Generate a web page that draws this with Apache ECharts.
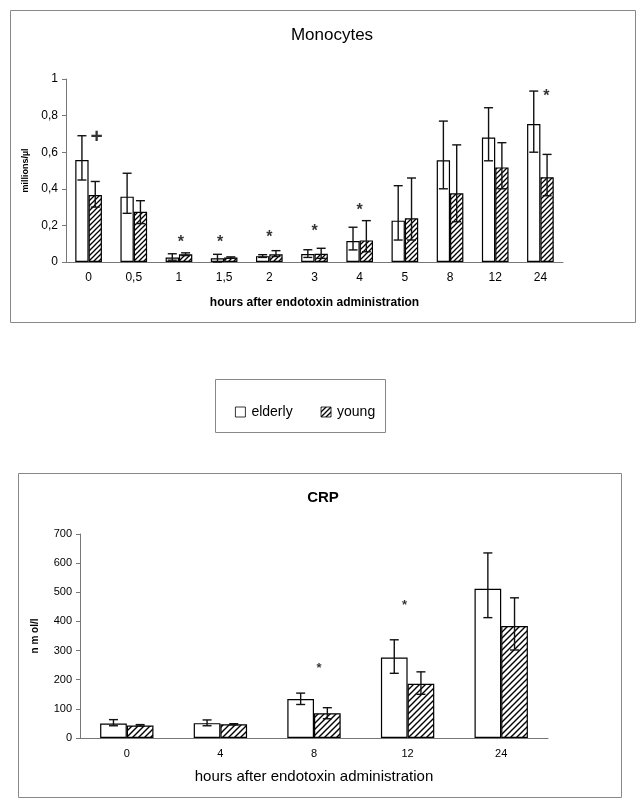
<!DOCTYPE html>
<html><head><meta charset="utf-8">
<script src="https://cdn.jsdelivr.net/npm/echarts@6/dist/echarts.min.js"></script>
<style>html,body{margin:0;padding:0;background:#fff}#c{width:643px;height:808px}</style>
</head><body><div id="c"></div>
<script>
// ---------- data ----------
const monoCategories = ['0','0,5','1','1,5','2','3','4','5','8','12','24'];
const monoElderly     = [0.557,0.357,0.025,0.020,0.032,0.044,0.115,0.226,0.556,0.680,0.754];
const monoElderlyLow  = [0.448,0.266,0.010,0.000,0.025,0.025,0.066,0.120,0.400,0.553,0.600];
const monoElderlyHigh = [0.690,0.485,0.045,0.042,0.040,0.067,0.190,0.417,0.770,0.843,0.934];
const monoYoung       = [0.366,0.275,0.042,0.025,0.042,0.045,0.118,0.239,0.375,0.517,0.463];
const monoYoungLow    = [0.300,0.210,0.035,0.020,0.030,0.020,0.056,0.120,0.220,0.400,0.362];
const monoYoungHigh   = [0.440,0.335,0.050,0.028,0.062,0.075,0.226,0.459,0.640,0.652,0.588];
const monoMarkCats    = [0,2,3,4,5,6,10];
const monoMarkValues  = [0.68,0.12,0.12,0.15,0.18,0.30,0.92];
const monoMarkSymbols = ['+','*','*','*','*','*','*'];
const monoYTicks = {0:'0',0.2:'0,2',0.4:'0,4',0.6:'0,6',0.8:'0,8',1:'1'};

const crpCategories   = ['0','4','8','12','24'];
const crpElderly      = [50,51,134,276,512];
const crpElderlyLow   = [42,42,115,222,413];
const crpElderlyHigh  = [63,62,154,337,635];
const crpYoung        = [43,47,85,186,384];
const crpYoungLow     = [41,45,66,150,302];
const crpYoungHigh    = [46,49,104,227,481];
const crpMarkCats     = [2,3];
const crpMarkValues   = [245,463];
const crpMarkSymbols  = ['*','*'];

const seriesNames = ['elderly','young'];

// ---------- styling ----------
const FONT = '"Liberation Sans", Arial, sans-serif';
const monoMarkOffsets = [[8,0],[2,3],[-4,3],[0,3],[0,3],[0,3],[6,3]];
const crpMarkOffsets = [[5,2],[-3,2]];

function hatch(size, lw){
  const c = document.createElement('canvas');
  c.width = size; c.height = size;
  const g = c.getContext('2d');
  g.fillStyle = '#fff'; g.fillRect(0,0,size,size);
  g.strokeStyle = '#000'; g.lineWidth = lw;
  g.beginPath();
  g.moveTo(0,size); g.lineTo(size,0);
  g.moveTo(-size/2,size/2); g.lineTo(size/2,-size/2);
  g.moveTo(size/2,size*1.5); g.lineTo(size*1.5,size/2);
  g.stroke();
  return c;
}
const hatchMono = {image: hatch(5,1.3), repeat:'repeat'};
const hatchCrp = {image: hatch(6,1.4), repeat:'repeat'};

function errSeries(name, xi, yi, lows, highs, side, barFrac){
  return {
    type:'custom', name: name+'_err', xAxisIndex:xi, yAxisIndex:yi, z:5,
    silent:true,
    data: lows.map((l,i)=>[i,l,highs[i]]),
    renderItem: function(params, api){
      const i = api.value(0);
      const lo = api.coord([i, api.value(1)]);
      const hi = api.coord([i, api.value(2)]);
      const cw = api.size([1,0])[0];
      const bw = cw*barFrac;
      const x = lo[0] + side*bw/2;
      const cap = 4.5;
      const st = {stroke:'#111', lineWidth:1.4};
      return {type:'group', children:[
        {type:'line', shape:{x1:x,y1:lo[1],x2:x,y2:hi[1]}, style:st},
        {type:'line', shape:{x1:x-cap,y1:hi[1],x2:x+cap,y2:hi[1]}, style:st},
        {type:'line', shape:{x1:x-cap,y1:lo[1],x2:x+cap,y2:lo[1]}, style:st}
      ]};
    }
  };
}

function markSeries(xi, yi, cats, vals, syms, offs, fs){
  return {
    type:'scatter', xAxisIndex:xi, yAxisIndex:yi, symbolSize:0, silent:true, z:6,
    data: cats.map((c,i)=>({value:[c, vals[i]], label:{formatter:syms[i], offset:offs[i],
      fontSize: syms[i]==='+' ? fs+5 : fs, fontWeight: 'bold'}})),
    label:{show:true, position:'inside', color:'#000', fontFamily:FONT}
  };
}

const axisGray = '#777';

const option = {
  animation:false,
  backgroundColor:'#fff',
  textStyle:{fontFamily:FONT},
  title:[
    {text:'Monocytes', left:327, top:22, textAlign:'center',
      textStyle:{fontSize:17, fontWeight:'normal', color:'#000', fontFamily:FONT}},
    {text:'CRP', left:318, top:485, textAlign:'center',
      textStyle:{fontSize:15, fontWeight:'bold', color:'#000', fontFamily:FONT}}
  ],
  legend:{
    data: seriesNames, left:230, top:400, itemWidth:10, itemHeight:10, itemGap:28,
    icon:'rect',
    itemStyle:{borderWidth:0.8},
    textStyle:{fontSize:14, color:'#000', fontFamily:FONT, padding:[0,0,0,1]}
  },
  graphic:[
    {type:'rect', shape:{x:10.5,y:10.5,width:625,height:312}, style:{fill:'none', stroke:'#888', lineWidth:1}, silent:true},
    {type:'rect', shape:{x:215.5,y:379.5,width:170,height:53}, style:{fill:'none', stroke:'#888', lineWidth:1}, silent:true},
    {type:'rect', shape:{x:18.5,y:473.5,width:603,height:324}, style:{fill:'none', stroke:'#888', lineWidth:1}, silent:true}
  ],
  grid:[
    {left:66, top:79, width:497, height:183},
    {left:80, top:534, width:468, height:204}
  ],
  xAxis:[
    {type:'category', gridIndex:0, data:monoCategories,
      axisLine:{lineStyle:{color:axisGray}}, axisTick:{length:4, lineStyle:{color:axisGray}},
      axisLabel:{fontSize:12, color:'#000', margin:10, fontFamily:FONT},
      name:'hours after endotoxin administration', nameLocation:'middle', nameGap:35,
      nameTextStyle:{fontSize:12, fontWeight:'bold', color:'#000', fontFamily:FONT}},
    {type:'category', gridIndex:1, data:crpCategories,
      axisLine:{lineStyle:{color:axisGray}}, axisTick:{length:4, lineStyle:{color:axisGray}},
      axisLabel:{fontSize:11, color:'#000', margin:10, fontFamily:FONT},
      name:'hours after endotoxin administration', nameLocation:'middle', nameGap:31,
      nameTextStyle:{fontSize:15, color:'#000', fontFamily:FONT}}
  ],
  yAxis:[
    {type:'value', gridIndex:0, min:0, max:1, interval:0.2,
      axisLine:{show:true, lineStyle:{color:axisGray}}, axisTick:{show:true, length:4, lineStyle:{color:axisGray}},
      splitLine:{show:false},
      axisLabel:{fontSize:12, color:'#000', margin:8, fontFamily:FONT,
        formatter:v=>monoYTicks[Math.round(v*10)/10] ?? String(v).replace('.',',')},
      name:'millions/µl', nameLocation:'middle', nameGap:35,
      nameTextStyle:{fontSize:9, fontWeight:'bold', color:'#000', fontFamily:FONT}},
    {type:'value', gridIndex:1, min:0, max:700, interval:100,
      axisLine:{show:true, lineStyle:{color:axisGray}}, axisTick:{show:true, length:4, lineStyle:{color:axisGray}},
      splitLine:{show:false},
      axisLabel:{fontSize:11, color:'#000', margin:8, fontFamily:FONT},
      name:'n m ol/l', nameLocation:'middle', nameGap:40,
      nameTextStyle:{fontSize:10, fontWeight:'bold', color:'#000', fontFamily:FONT}}
  ],
  series:[
    {type:'bar', name:seriesNames[0], xAxisIndex:0, yAxisIndex:0, data:monoElderly,
      barWidth:'29.5%', barGap:'0%',
      itemStyle:{color:'#fff', borderColor:'#000', borderWidth:1.2}},
    {type:'bar', name:seriesNames[1], xAxisIndex:0, yAxisIndex:0, data:monoYoung,
      barWidth:'29.5%', barGap:'0%',
      itemStyle:{color:hatchMono, borderColor:'#000', borderWidth:1.2}},
    errSeries('elderly',0,0,monoElderlyLow,monoElderlyHigh,-1,0.295),
    errSeries('young',0,0,monoYoungLow,monoYoungHigh,1,0.295),
    markSeries(0,0,monoMarkCats,monoMarkValues,monoMarkSymbols,monoMarkOffsets,16),

    {type:'bar', name:seriesNames[0], xAxisIndex:1, yAxisIndex:1, data:crpElderly,
      barWidth:'28.5%', barGap:'0%',
      itemStyle:{color:'#fff', borderColor:'#000', borderWidth:1.2}},
    {type:'bar', name:seriesNames[1], xAxisIndex:1, yAxisIndex:1, data:crpYoung,
      barWidth:'28.5%', barGap:'0%',
      itemStyle:{color:hatchCrp, borderColor:'#000', borderWidth:1.2}},
    errSeries('elderly',1,1,crpElderlyLow,crpElderlyHigh,-1,0.285),
    errSeries('young',1,1,crpYoungLow,crpYoungHigh,1,0.285),
    markSeries(1,1,crpMarkCats,crpMarkValues,crpMarkSymbols,crpMarkOffsets,13)
  ]
};
const chart = echarts.init(document.getElementById('c'), null, {renderer:'canvas'});
chart.setOption(option);
</script></body></html>
